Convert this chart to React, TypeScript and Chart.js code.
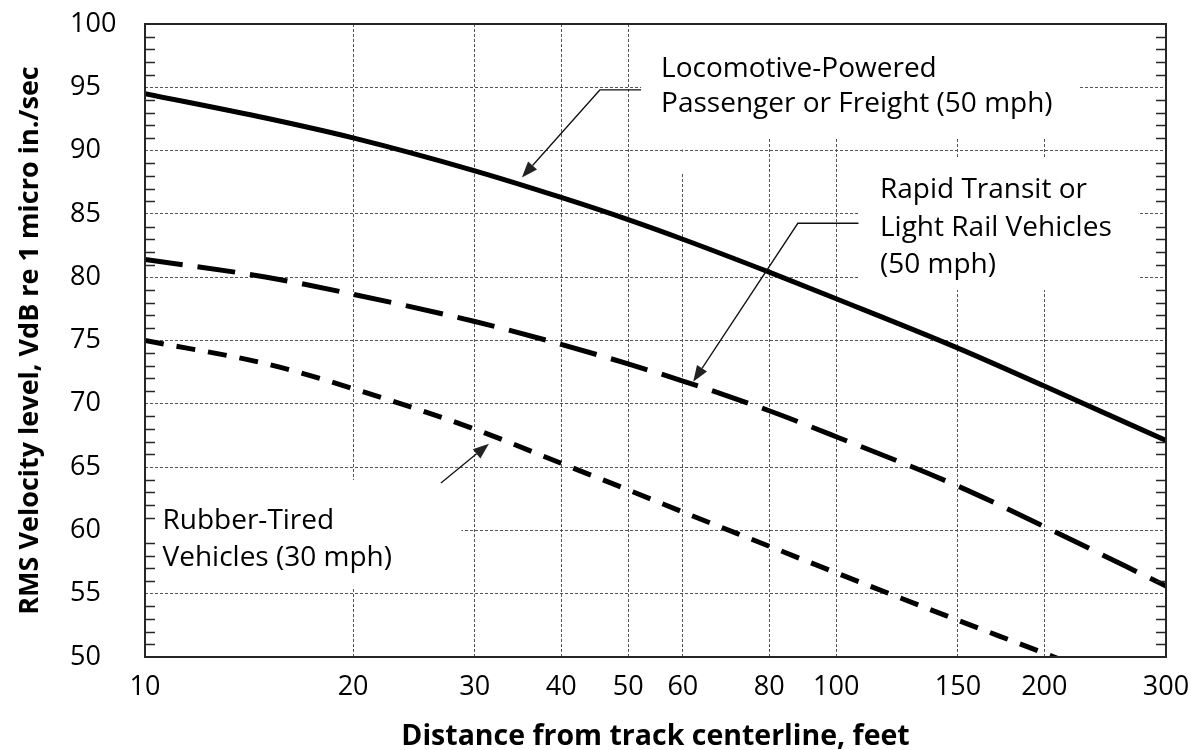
import React, { useEffect, useRef } from 'react';
import { Chart, registerables } from 'chart.js';

Chart.register(...registerables);

// ---------- data ----------
const distances = [10, 15, 20, 30, 40, 50, 60, 80, 100, 150, 200, 300];
const locomotive = [94.5, 92.55, 91.0, 88.4, 86.3, 84.55, 83.0, 80.4, 78.3, 74.4, 71.4, 67.1];
const rapidTransit = [81.4, 80.0, 78.65, 76.5, 74.7, 73.15, 71.8, 69.45, 67.4, 63.5, 60.3, 55.6];
const rubberTired = [75.0, 73.15, 71.2, 68.0, 65.3, 63.2, 61.45, 58.75, 56.65, 52.9, 50.3, 46.5];

const xTickValues = [10, 20, 30, 40, 50, 60, 80, 100, 150, 200, 300];
const yMin = 50;
const yMax = 100;
const yStep = 5;

const xTitle = 'Distance from track centerline, feet';
const yTitle = 'RMS Velocity level, VdB re 1 micro in./sec';

const locoLabel = ['Locomotive-Powered', 'Passenger or Freight (50 mph)'];
const rapidLabel = ['Rapid Transit or', 'Light Rail Vehicles', '(50 mph)'];
const rubberLabel = ['Rubber-Tired', 'Vehicles (30 mph)'];

// annotation placement in data units (x = feet, y = VdB)
const annotations = [
  {
    lines: locoLabel, textX: 55.8, baselines: [95.81, 93.05],
    box: [52.2, 224, 100, 90.92],
    leader: [[52.2, 94.79], [45.5, 94.79], [35.1, 87.88]],
  },
  {
    lines: rapidLabel, textX: 115.7, baselines: [86.26, 83.25, 80.33],
    box: [107.7, 275, 89.49, 78.99],
    leader: [[107.7, 84.26], [88.0, 84.26], [62.1, 71.75]],
  },
  {
    lines: rubberLabel, textX: 10.6, baselines: [60.11, 57.19],
    box: [10, 28.7, 63.98, 55.53],
    leader: [[26.8, 63.74], [31.45, 66.85]],
  },
];

const FONT = '"Open Sans", "Noto Sans", sans-serif';
const TICK_SIZE = 27;
const LABEL_SIZE = 28;
const X_TITLE_SIZE = 28.5;
const Y_TITLE_SIZE = 27;

const overlayPlugin = {
  id: 'overlay',
  beforeDatasetsDraw(chart: any) {
    const { ctx, scales } = chart;
    const x = scales.x;
    const y = scales.y;
    ctx.save();
    ctx.fillStyle = '#ffffff';
    for (const a of annotations) {
      const [bx0, bx1, by0, by1] = a.box;
      const x1 = x.getPixelForValue(bx0);
      const x2 = x.getPixelForValue(bx1);
      const y1 = y.getPixelForValue(by0);
      const y2 = y.getPixelForValue(by1);
      ctx.fillRect(Math.min(x1, x2), Math.min(y1, y2), Math.abs(x2 - x1), Math.abs(y2 - y1));
    }
    // small gap in the 60 ft gridline below the upper label
    const gx = x.getPixelForValue(60);
    const gy1 = y.getPixelForValue(90.92);
    const gy2 = y.getPixelForValue(88.23);
    const g90 = y.getPixelForValue(90);
    ctx.fillRect(gx - 3, gy1, 6, g90 - gy1 - 1);
    ctx.fillRect(gx - 3, g90 + 1, 6, gy2 - g90 - 1);
    ctx.restore();
  },
  afterDatasetsDraw(chart: any) {
    const { ctx, chartArea, scales } = chart;
    const x = scales.x;
    const y = scales.y;
    ctx.save();

    // frame
    ctx.strokeStyle = '#262626';
    ctx.lineWidth = 2;
    ctx.strokeRect(chartArea.left, chartArea.top, chartArea.right - chartArea.left, chartArea.bottom - chartArea.top);

    // minor ticks on left and right axes
    ctx.lineWidth = 1.5;
    ctx.beginPath();
    for (let v = yMin + 1; v < yMax; v++) {
      if (v % yStep === 0) continue;
      const py = Math.round(y.getPixelForValue(v)) + 0.5;
      ctx.moveTo(chartArea.left, py);
      ctx.lineTo(chartArea.left + 10, py);
      ctx.moveTo(chartArea.right - 10, py);
      ctx.lineTo(chartArea.right, py);
    }
    ctx.stroke();

    // annotation text
    ctx.fillStyle = '#000';
    ctx.font = `${LABEL_SIZE}px ${FONT}`;
    ctx.textAlign = 'left';
    ctx.textBaseline = 'alphabetic';
    for (const a of annotations) {
      const tx = x.getPixelForValue(a.textX);
      a.lines.forEach((line, i) => {
        ctx.fillText(line, tx, y.getPixelForValue(a.baselines[i]));
      });
    }

    // leaders with arrowheads
    ctx.strokeStyle = '#111';
    ctx.fillStyle = '#222';
    ctx.lineWidth = 1.3;
    for (const a of annotations) {
      const pts = a.leader.map(([vx, vy]) => [x.getPixelForValue(vx), y.getPixelForValue(vy)]);
      const n = pts.length;
      const [tx, ty] = pts[n - 1];
      const [px, py] = pts[n - 2];
      const ang = Math.atan2(ty - py, tx - px);
      const headLen = 16;
      const headW = 6;
      const bx = tx - headLen * Math.cos(ang);
      const by = ty - headLen * Math.sin(ang);
      ctx.beginPath();
      ctx.moveTo(pts[0][0], pts[0][1]);
      for (let i = 1; i < n - 1; i++) ctx.lineTo(pts[i][0], pts[i][1]);
      ctx.lineTo(bx, by);
      ctx.stroke();
      ctx.beginPath();
      ctx.moveTo(tx, ty);
      ctx.lineTo(bx + headW * Math.sin(ang), by - headW * Math.cos(ang));
      ctx.lineTo(bx - headW * Math.sin(ang), by + headW * Math.cos(ang));
      ctx.closePath();
      ctx.fill();
    }

    // axis titles
    ctx.fillStyle = '#000';
    ctx.textAlign = 'center';
    ctx.textBaseline = 'alphabetic';
    ctx.font = `bold ${X_TITLE_SIZE}px ${FONT}`;
    ctx.fillText(xTitle, (chartArea.left + chartArea.right) / 2, chartArea.bottom + 88);
    ctx.font = `bold ${Y_TITLE_SIZE}px ${FONT}`;
    ctx.save();
    ctx.translate(38, (chartArea.top + chartArea.bottom) / 2);
    ctx.rotate(-Math.PI / 2);
    ctx.fillText(yTitle, 0, 0);
    ctx.restore();

    ctx.restore();
  },
};

export default function App() {
  const canvasRef = useRef<HTMLCanvasElement | null>(null);

  useEffect(() => {
    const canvas = canvasRef.current;
    if (!canvas) return;
    Chart.defaults.font.family = FONT;
    const mk = (vals: number[]) => distances.map((d, i) => ({ x: d, y: vals[i] }));
    const common = {
      borderColor: '#000',
      borderWidth: 5,
      borderCapStyle: 'butt',
      pointRadius: 0,
      cubicInterpolationMode: 'monotone',
      fill: false,
      clip: 0,
    };
    const chart = new Chart(canvas, {
      type: 'line',
      data: {
        datasets: [
          { ...common, label: 'Locomotive-Powered Passenger or Freight (50 mph)', data: mk(locomotive) },
          { ...common, label: 'Rapid Transit or Light Rail Vehicles (50 mph)', data: mk(rapidTransit), borderDash: [38, 15] },
          { ...common, label: 'Rubber-Tired Vehicles (30 mph)', data: mk(rubberTired), borderDash: [19, 13] },
        ],
      },
      options: {
        animation: false,
        responsive: false,
        devicePixelRatio: 1,
        layout: { padding: { left: 70, top: 24, right: 25, bottom: 0 } },
        plugins: { legend: { display: false }, tooltip: { enabled: false } },
        scales: {
          x: {
            type: 'logarithmic',
            min: 10,
            max: 300,
            afterBuildTicks: (s: any) => {
              s.ticks = xTickValues.map((v) => ({ value: v }));
            },
            afterFit: (s: any) => {
              s.height = 93;
              s.paddingLeft = 0;
              s.paddingRight = 0;
            },
            ticks: {
              autoSkip: false,
              maxRotation: 0,
              padding: 14,
              color: '#000',
              font: { size: TICK_SIZE, family: FONT },
              callback: (v: any) => String(v),
            },
            grid: { color: '#555', lineWidth: 1, drawTicks: false },
            border: { display: false, dash: [3, 2] },
          },
          y: {
            min: yMin,
            max: yMax,
            afterFit: (s: any) => {
              s.width = 75;
              s.paddingTop = 0;
              s.paddingBottom = 0;
            },
            ticks: {
              stepSize: yStep,
              crossAlign: 'far',
              color: '#000',
              font: { size: TICK_SIZE, family: FONT },
            },
            grid: { color: '#555', lineWidth: 1, drawTicks: false },
            border: { display: false, dash: [3, 2] },
          },
        },
      },
      plugins: [overlayPlugin],
    } as any);
    return () => chart.destroy();
  }, []);

  return (
    <div style={{ position: 'absolute', left: 0, top: 0, width: 1191, height: 750, background: '#fff' }}>
      <canvas ref={canvasRef} width={1191} height={750} style={{ display: 'block' }} />
    </div>
  );
}
